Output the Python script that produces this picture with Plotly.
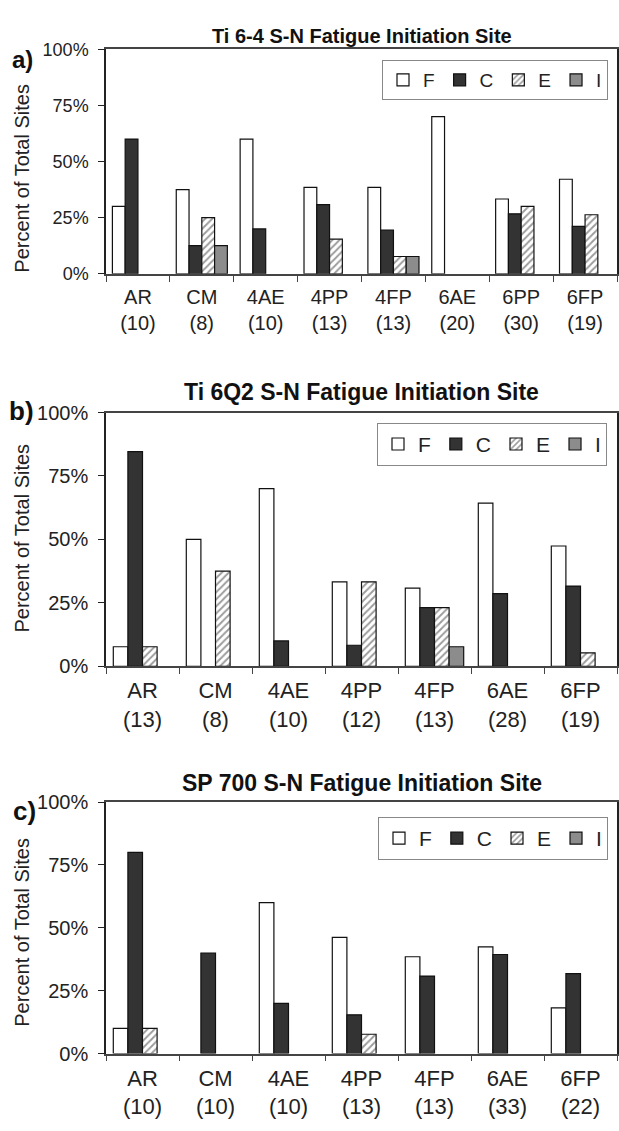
import plotly.graph_objects as go

W, H = 619, 1131

# ---------------- data ----------------
cats_a = ["AR", "CM", "4AE", "4PP", "4FP", "6AE", "6PP", "6FP"]
n_a = [10, 8, 10, 13, 13, 20, 30, 19]
F_a = [30, 37.5, 60, 38.5, 38.5, 70, 33.3, 42.1]
C_a = [60, 12.5, 20, 30.8, 19.5, None, 26.7, 21.1]
E_a = [None, 25, None, 15.4, 7.7, None, 30, 26.3]
I_a = [None, 12.5, None, None, 7.7, None, None, None]

cats_b = ["AR", "CM", "4AE", "4PP", "4FP", "6AE", "6FP"]
n_b = [13, 8, 10, 12, 13, 28, 19]
F_b = [7.7, 50, 70, 33.3, 30.8, 64.3, 47.4]
C_b = [84.6, None, 10, 8.3, 23.1, 28.6, 31.6]
E_b = [7.7, 37.5, None, 33.3, 23.1, None, 5.3]
I_b = [None, None, None, None, 7.7, None, None]

cats_c = ["AR", "CM", "4AE", "4PP", "4FP", "6AE", "6FP"]
n_c = [10, 10, 10, 13, 13, 33, 22]
F_c = [10, None, 60, 46.2, 38.5, 42.4, 18.2]
C_c = [80, 40, 20, 15.4, 30.8, 39.4, 31.8]
E_c = [10, None, None, 7.7, None, None, None]
I_c = [None, None, None, None, None, None, None]

series_names = ["F", "C", "E", "I"]
titles = ["Ti 6-4 S-N Fatigue Initiation Site",
          "Ti 6Q2 S-N Fatigue Initiation Site",
          "SP 700 S-N Fatigue Initiation Site"]
panel_tags = ["a)", "b)", "c)"]
y_ticks = [0, 25, 50, 75, 100]
y_ticktext = ["0%", "25%", "50%", "75%", "100%"]

FONT = "Liberation Sans, Arial, sans-serif"

styles = {
    "F": dict(color="white"),
    "C": dict(color="#333333"),
    "E": dict(color="white", pattern=dict(shape="/", fgcolor="#3a3a3a", bgcolor="white",
                                          size=5, solidity=0.4)),
    "I": dict(color="#8c8c8c"),
}

# layout geometry (pixels)
px_x = (106, 617)
px_y = [(39, 268), (409.5, 668.3), (806.7, 1063.3)]
xdom = [px_x[0] / W, px_x[1] / W]
ydoms = [[1 - b / H, 1 - t / H] for (t, b) in px_y]

panels = [
    (cats_a, n_a, [F_a, C_a, E_a, I_a]),
    (cats_b, n_b, [F_b, C_b, E_b, I_b]),
    (cats_c, n_c, [F_c, C_c, E_c, I_c]),
]
tick_fs = [18, 20, 20]
xlab_fs = [20, 22, 22]
title_fs = [20, 23, 23]
leg_fs = [19, 21, 21]
tag_fs = [24, 26, 26]
title_y = [25, 389, 787.5]
tag_y = [49, 408, 816]
tag_x = [22, 21, 24]
ytitle_y = [171, 538, 940]
legend_px = [(608, 50), (607, 420), (608, 822)]

fig = go.Figure()
annotations = []
layout = {}
for p, (cats, ns, vals) in enumerate(panels):
    sfx = "" if p == 0 else str(p + 1)
    xa, ya = "x" + sfx, "y" + sfx
    leg = "legend" + sfx
    labels = [f"{c}<br>({n})" for c, n in zip(cats, ns)]
    for name, v in zip(series_names, vals):
        st = styles[name]
        marker = dict(color=st["color"], line=dict(color="#111111", width=1.2))
        if "pattern" in st:
            marker["pattern"] = st["pattern"]
        fig.add_trace(go.Bar(x=labels, y=v, name=name, marker=marker,
                             xaxis=xa, yaxis=ya, legend=leg, showlegend=True))
    layout["xaxis" + sfx] = dict(
        domain=xdom, anchor=ya, type="category", tickson="boundaries",
        ticks="outside", ticklen=6, tickcolor="#444", tickwidth=1.2,
        showline=True, linecolor="#444", linewidth=1.5, mirror=True,
        showgrid=False, zeroline=False, fixedrange=True,
        tickfont=dict(family=FONT, size=xlab_fs[p], color="#222"),
        ticklabelstandoff=4,
    )
    layout["yaxis" + sfx] = dict(
        domain=ydoms[p], anchor=xa, range=[0, 100],
        tickvals=y_ticks, ticktext=y_ticktext,
        ticks="outside", ticklen=6, tickcolor="#222", tickwidth=1.2,
        showline=True, linecolor="#222", linewidth=1.5, mirror=True,
        showgrid=False, zeroline=False, fixedrange=True,
        tickfont=dict(family=FONT, size=tick_fs[p], color="#222"),
        ticklabelstandoff=6,
    )
    lx, ly = legend_px[p]
    layout[leg] = dict(
        x=lx / W, xanchor="right", y=1 - ly / H, yanchor="top",
        xref="paper", yref="paper", orientation="h",
        font=dict(family=FONT, size=leg_fs[p], color="#222"),
        bgcolor="white", bordercolor="#888", borderwidth=1,
        itemwidth=30, traceorder="normal",
    )
    annotations.append(dict(
        text=f"<b>{titles[p]}</b>", x=(xdom[0] + xdom[1]) / 2, y=1 - title_y[p] / H,
        xref="paper", yref="paper", xanchor="center", yanchor="middle",
        showarrow=False, font=dict(family=FONT, size=title_fs[p], color="#111")))
    annotations.append(dict(
        text=f"<b>{panel_tags[p]}</b>", x=tag_x[p] / W, y=1 - tag_y[p] / H,
        xref="paper", yref="paper", xanchor="center", yanchor="middle",
        showarrow=False, font=dict(family=FONT, size=tag_fs[p], color="#111")))
    annotations.append(dict(
        text="Percent of Total Sites", x=22 / W, y=1 - ytitle_y[p] / H,
        xref="paper", yref="paper", xanchor="center", yanchor="middle",
        textangle=-90, showarrow=False,
        font=dict(family=FONT, size=20, color="#222")))

fig.update_layout(
    width=W, height=H, margin=dict(l=0, r=0, t=0, b=0),
    paper_bgcolor="white", plot_bgcolor="white",
    barmode="group", bargap=0.2, bargroupgap=0,
    annotations=annotations, **layout,
)

fig.write_html("out.html", include_plotlyjs=True)
